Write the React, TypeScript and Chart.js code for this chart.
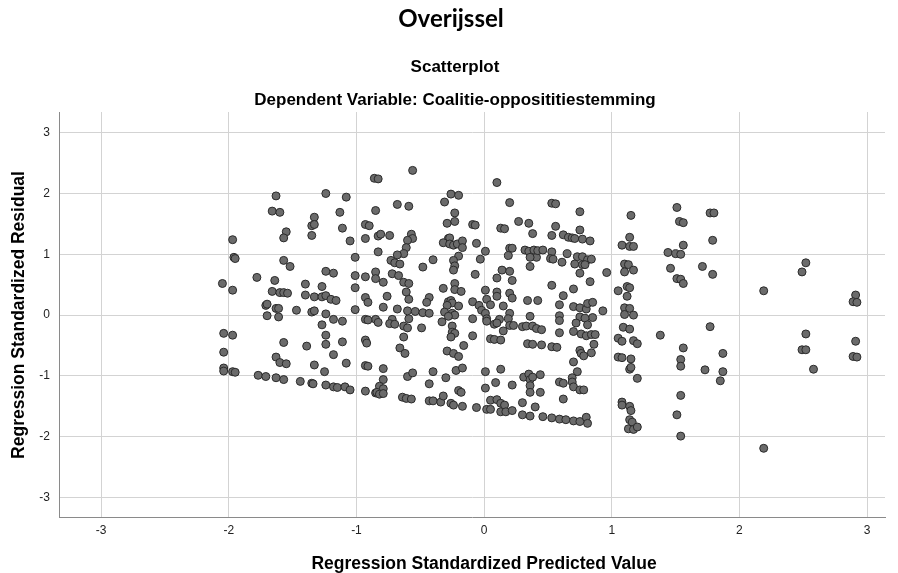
import { useEffect, useRef } from "react";
import { Chart, registerables } from "chart.js";

Chart.register(...registerables);

const mainTitle = "Overijssel";
const subTitle = "Scatterplot";
const dependentTitle = "Dependent Variable: Coalitie-opposititiestemming";
const xAxisTitle = "Regression Standardized Predicted Value";
const yAxisTitle = "Regression Standardized Residual";

const xTickValues = [-3, -2, -1, 0, 1, 2, 3];
const yTickValues = [-3, -2, -1, 0, 1, 2, 3];

// Regression standardized predicted values (x) and residuals (y)
const predictedUpperLeft = [
  -1.63, -1.24, -1.08, -1.66, -1.60, -1.13, -1.33, -1.35, -1.33, -1.11, -1.55, -1.57, -1.35, -1.05, -1.97, -1.96, -1.95, -1.57, -1.52, -1.01,
  -1.24, -1.18, -1.01, -0.93, -1.78, -1.64, -2.05, -1.97, -1.40, -1.27, -1.01, -1.66, -1.60, -1.57, -1.54, -1.40, -1.33, -1.27, -1.24, -1.20,
  -1.16, -0.93, -0.91, -1.71, -1.70, -1.63, -1.61, -1.47, -1.35, -1.33, -1.24, -1.01, -1.70, -1.61, -1.18, -1.11, -0.93, -0.93, -0.90, -0.93,
];
const residualUpperLeft = [
  1.96, 2.00, 1.94, 1.71, 1.69, 1.69, 1.61, 1.47, 1.49, 1.43, 1.37, 1.27, 1.31, 1.22, 1.24, 0.95, 0.93, 0.90, 0.80, 0.95,
  0.72, 0.69, 0.65, 0.63, 0.62, 0.57, 0.52, 0.41, 0.51, 0.47, 0.45, 0.39, 0.37, 0.37, 0.36, 0.33, 0.30, 0.30, 0.32, 0.26,
  0.24, 0.29, 0.21, 0.16, 0.18, 0.11, 0.11, 0.08, 0.05, 0.07, 0.02, 0.09, -0.01, -0.03, -0.07, -0.10, -0.07, 1.49, 1.47, 1.26,
];

const predictedUpperMiddle = [
  -0.56, -0.86, -0.83, 0.10, -0.26, -0.20, -0.31, 0.20, -0.85, -0.68, -0.59, -0.23, -0.29, -0.23, -0.09, -0.07, 0.13, 0.16, 0.27, 0.35,
  0.38, -0.83, -0.81, -0.74, -0.57, -0.56, -0.60, -0.28, -0.27, -0.32, -0.27, -0.24, -0.21, -0.17, -0.17, -0.06, 0.01, 0.20, 0.22, 0.19,
  0.32, 0.35, 0.39, 0.41, 0.36, 0.42, 0.36, -0.83, -0.61, -0.63, -0.68, -0.73, -0.70, -0.66, -0.48, -0.40, -0.20, -0.24, -0.23, -0.24,
  -0.03, -0.85, -0.85, -0.79, -0.72, -0.67, -0.63, -0.59, -0.07, 0.14, 0.20, 0.10, 0.22, -0.32, -0.23, -0.23, -0.18, 0.01, 0.10, 0.10,
  0.20, 0.22, -0.61, -0.59, -0.76, -0.43, -0.45, -0.28, -0.26, -0.25, -0.29, -0.20, -0.09, -0.04, 0.02, 0.05, -0.02, 0.01, 0.15, 0.34,
  0.42, -0.79, -0.68, -0.60, -0.54, -0.48, -0.43, -0.31, -0.25, -0.23, -0.28, 0.20, 0.36, -0.09, 0.02, 0.12, 0.19, -0.85, -0.72, -0.59,
];
const residualUpperMiddle = [
  2.38, 2.25, 2.24, 2.18, 1.99, 1.97, 1.86, 1.85, 1.72, 1.82, 1.79, 1.68, 1.51, 1.54, 1.49, 1.48, 1.43, 1.42, 1.54, 1.51,
  1.34, 1.30, 1.33, 1.31, 1.33, 1.26, 1.23, 1.26, 1.27, 1.19, 1.17, 1.15, 1.17, 1.22, 1.11, 1.18, 1.05, 1.10, 1.10, 0.98,
  1.07, 1.05, 1.07, 0.95, 0.95, 1.06, 0.80, 1.04, 1.11, 1.01, 0.99, 0.90, 0.86, 0.84, 0.79, 0.91, 0.97, 0.90, 0.81, 0.74,
  0.92, 0.71, 0.60, 0.54, 0.68, 0.65, 0.54, 0.52, 0.67, 0.74, 0.72, 0.61, 0.57, 0.44, 0.52, 0.42, 0.39, 0.41, 0.38, 0.31,
  0.36, 0.28, 0.38, 0.26, 0.31, 0.29, 0.21, 0.22, 0.24, 0.20, 0.16, 0.15, 0.22, 0.16, 0.26, 0.17, 0.08, 0.03, 0.15, 0.24,
  0.24, 0.13, 0.10, 0.07, 0.06, 0.04, 0.03, 0.05, 0.03, 0.00, -0.02, 0.03, -0.02, -0.06, -0.06, -0.07, -0.06, -0.07, -0.07, -0.06,
];

const predictedUpperRight = [
  0.53, 0.56, 0.75, 1.15, 1.51, 1.53, 1.56, 0.56, 0.53, 0.75, 0.62, 0.66, 0.69, 0.71, 0.77, 0.83, 1.14, 1.08, 1.14, 1.17,
  1.56, 1.44, 1.50, 1.54, 0.46, 0.53, 0.65, 0.52, 0.54, 0.73, 0.77, 0.81, 0.84, 0.71, 0.77, 0.79, 0.61, 0.96, 0.75, 1.10,
  1.13, 1.10, 1.17, 1.46, 1.51, 1.54, 1.56, 0.53, 0.83, 0.70, 0.62, 0.59, 1.05, 1.12, 1.14, 1.12, 0.70, 0.75, 0.80, 0.81,
  0.85, 0.93, 1.10, 1.14, 1.10, 1.17, 0.59, 0.75, 0.85, 0.79,
  1.77, 1.80, 1.79, 1.71, 1.79, 2.19, 2.52, 2.49, 2.91, 2.89, 2.92,
];
const residualUpperRight = [
  1.84, 1.83, 1.70, 1.64, 1.77, 1.54, 1.52, 1.46, 1.31, 1.40, 1.32, 1.28, 1.27, 1.26, 1.25, 1.22, 1.28, 1.15, 1.13, 1.13,
  1.15, 1.03, 1.01, 1.00, 1.07, 1.04, 1.01, 0.93, 0.92, 0.96, 0.96, 0.91, 0.92, 0.84, 0.83, 0.83, 0.87, 0.70, 0.69, 0.84,
  0.83, 0.71, 0.74, 0.77, 0.60, 0.59, 0.52, 0.49, 0.55, 0.43, 0.32, 0.17, 0.40, 0.47, 0.45, 0.31, 0.14, 0.12, 0.10, 0.19,
  0.21, 0.07, 0.12, 0.11, 0.01, 0.00, -0.01, -0.03, -0.04, -0.05,
  1.68, 1.68, 1.23, 0.80, 0.67, 0.40, 0.86, 0.71, 0.33, 0.22, 0.21,
];

const predictedLowerLeft = [
  -1.27, -2.04, -1.97, -1.57, -1.39, -1.24, -1.24, -1.11, -0.93, -0.92, -2.04, -1.63, -1.60, -1.55, -1.33, -1.18, -1.08, -1.25, -0.93, -0.91,
  -2.04, -2.04, -1.97, -1.95, -1.77, -1.71, -1.63, -1.57, -1.44, -1.35, -1.34, -1.24, -1.18, -1.15, -1.09, -1.05, -0.93, -0.85, -0.91,
];
const residualLowerLeft = [
  -0.16, -0.30, -0.33, -0.45, -0.51, -0.33, -0.48, -0.44, -0.41, -0.46, -0.61, -0.69, -0.78, -0.80, -0.82, -0.65, -0.79, -0.93, -0.83, -0.84,
  -0.87, -0.92, -0.93, -0.94, -0.99, -1.01, -1.03, -1.06, -1.09, -1.12, -1.13, -1.15, -1.18, -1.19, -1.18, -1.23, -1.25, -1.28, -0.08,
];

const predictedLowerMiddle = [
  -0.83, -0.74, -0.70, -0.63, -0.60, -0.63, -0.49, -0.33, -0.25, -0.25, -0.23, -0.26, -0.09, 0.02, 0.08, 0.10, 0.05, 0.08, 0.13, 0.15,
  0.20, 0.23, 0.30, 0.33, 0.38, 0.41, 0.34, 0.38, -0.66, -0.62, -0.16, -0.29, -0.24, -0.20, -0.79, -0.60, -0.56, -0.40, -0.22, -0.17,
  -0.30, -0.43, 0.01, 0.13, 0.09, 0.22, 0.01, 0.31, 0.35, 0.36, 0.36, 0.38, 0.36, 0.44, -0.79, -0.82, -0.79, -0.84, -0.82, -0.79,
  -0.64, -0.61, -0.57, -0.43, -0.40, -0.34, -0.32, -0.26, -0.24, -0.20, -0.18, -0.17, -0.06, 0.02, 0.05, 0.05, 0.10, 0.13, 0.16, 0.13,
  0.17, 0.22, 0.30, 0.30, 0.36, 0.40,
];
const residualLowerMiddle = [
  -0.12, -0.14, -0.15, -0.18, -0.21, -0.36, -0.21, -0.11, -0.18, -0.28, -0.30, -0.36, -0.34, -0.10, -0.15, -0.13, -0.39, -0.40, -0.41, -0.26,
  -0.17, -0.17, -0.19, -0.18, -0.18, -0.22, -0.47, -0.48, -0.54, -0.63, -0.50, -0.59, -0.63, -0.68, -0.88, -1.01, -0.95, -0.93, -0.91, -0.87,
  -1.03, -1.13, -0.93, -0.89, -1.11, -1.15, -1.20, -1.02, -0.97, -1.06, -1.16, -1.02, -1.27, -1.27, -1.06, -1.17, -1.21, -1.27, -1.30, -1.29,
  -1.35, -1.37, -1.38, -1.41, -1.41, -1.43, -1.33, -1.45, -1.48, -1.24, -1.27, -1.50, -1.52, -1.55, -1.55, -1.40, -1.39, -1.45, -1.48, -1.59,
  -1.59, -1.57, -1.44, -1.64, -1.66, -1.51,
];

const predictedLowerRight = [
  0.59, 0.72, 0.81, 0.45, 0.59, 0.70, 0.76, 0.80, 0.84, 0.87, 1.09, 1.14, 1.05, 1.08, 1.17, 1.20, 1.38, 1.56, 1.54, 1.54,
  0.45, 0.53, 0.57, 0.86, 0.75, 0.76, 0.78, 0.84, 0.70, 1.05, 1.08, 1.15, 1.14, 1.15, 0.73, 1.20, 0.44, 0.59, 0.62, 0.69,
  0.69, 0.70, 0.75, 0.78, 0.62, 1.54, 1.08, 1.08, 1.14, 1.15, 1.14, 1.16, 1.13, 1.17, 1.20, 1.51, 1.54, 0.46, 0.53, 0.59,
  0.64, 0.70, 0.75, 0.80, 0.81,
  1.77, 1.87, 1.73, 1.87, 1.85, 2.52, 2.49, 2.52, 2.58, 2.91, 2.89, 2.92, 2.19,
];
const residualLowerRight = [
  -0.09, -0.13, -0.16, -0.24, -0.29, -0.27, -0.31, -0.34, -0.32, -0.32, -0.20, -0.23, -0.38, -0.43, -0.42, -0.47, -0.33, -0.54, -0.73, -0.84,
  -0.49, -0.52, -0.53, -0.48, -0.58, -0.63, -0.67, -0.62, -0.77, -0.69, -0.70, -0.72, -0.89, -0.86, -0.93, -1.04, -0.98, -1.10, -1.12, -1.03,
  -1.10, -1.18, -1.23, -1.23, -1.38, -1.32, -1.43, -1.48, -1.50, -1.57, -1.72, -1.76, -1.87, -1.88, -1.84, -1.64, -1.99, -1.67, -1.69, -1.71,
  -1.72, -1.74, -1.75, -1.68, -1.78,
  -0.19, -0.63, -0.90, -0.93, -1.08, -0.31, -0.57, -0.57, -0.89, -0.43, -0.68, -0.69, -2.19,
];

const predictedAll = [
  ...predictedUpperLeft, ...predictedUpperMiddle, ...predictedUpperRight,
  ...predictedLowerLeft, ...predictedLowerMiddle, ...predictedLowerRight,
];
const residualAll = [
  ...residualUpperLeft, ...residualUpperMiddle, ...residualUpperRight,
  ...residualLowerLeft, ...residualLowerMiddle, ...residualLowerRight,
];

const W = 898;
const H = 573;

const titlePlugin = {
  id: "spssTitles",
  afterDraw(chart: any) {
    const ctx = chart.ctx as CanvasRenderingContext2D;
    ctx.save();
    ctx.fillStyle = "#000000";
    ctx.textAlign = "center";
    ctx.textBaseline = "alphabetic";
    ctx.font = "bold 24px Lato";
    ctx.fillText(mainTitle, 451, 27);
    ctx.font = "bold 17px 'Liberation Sans'";
    ctx.fillText(subTitle, 455, 72);
    ctx.fillText(dependentTitle, 455, 105);
    ctx.font = "bold 17.5px 'Liberation Sans'";
    ctx.fillText(xAxisTitle, 484, 569);
    ctx.translate(19, 315);
    ctx.rotate(-Math.PI / 2);
    ctx.textBaseline = "middle";
    ctx.fillText(yAxisTitle, 0, 0);
    ctx.restore();
  },
};

export default function App() {
  const canvasRef = useRef<HTMLCanvasElement | null>(null);

  useEffect(() => {
    const canvas = canvasRef.current;
    if (!canvas) return;
    const points = predictedAll.map((x, i) => ({ x, y: residualAll[i] }));
    const chart = new Chart(canvas, {
      type: "scatter",
      data: {
        datasets: [
          {
            data: points,
            backgroundColor: "#6b6b6b",
            borderColor: "#2a2a2a",
            borderWidth: 1,
            pointRadius: 4,
          },
        ],
      },
      options: {
        responsive: false,
        animation: false,
        devicePixelRatio: 1,
        layout: { padding: { top: 112, right: 13, left: 0, bottom: 0 } },
        plugins: {
          legend: { display: false },
          tooltip: { enabled: false },
          title: { display: false },
        },
        scales: {
          x: {
            type: "linear",
            min: -3.33,
            max: 3.14,
            afterFit: (s: any) => {
              s.height = 56;
            },
            afterBuildTicks: (s: any) => {
              s.ticks = xTickValues.map((v) => ({ value: v }));
            },
            ticks: {
              stepSize: 1,
              padding: 6,
              color: "#222222",
              font: { family: "'Liberation Sans'", size: 12 },
            },
            grid: { color: "#d3d3d3", lineWidth: 1, drawTicks: false },
            border: { color: "#8a8a8a", width: 1 },
          },
          y: {
            type: "linear",
            min: -3.32,
            max: 3.34,
            afterFit: (s: any) => {
              s.width = 59;
            },
            afterBuildTicks: (s: any) => {
              s.ticks = yTickValues.map((v) => ({ value: v }));
            },
            ticks: {
              stepSize: 1,
              padding: 9,
              color: "#222222",
              font: { family: "'Liberation Sans'", size: 12 },
            },
            grid: { color: "#d3d3d3", lineWidth: 1, drawTicks: false },
            border: { color: "#8a8a8a", width: 1 },
          },
        },
      },
      plugins: [titlePlugin],
    });
    return () => chart.destroy();
  }, []);

  return (
    <div style={{ position: "fixed", left: 0, top: 0, width: W, height: H, background: "#ffffff" }}>
      <canvas ref={canvasRef} width={W} height={H} style={{ width: W, height: H, display: "block" }} />
    </div>
  );
}
